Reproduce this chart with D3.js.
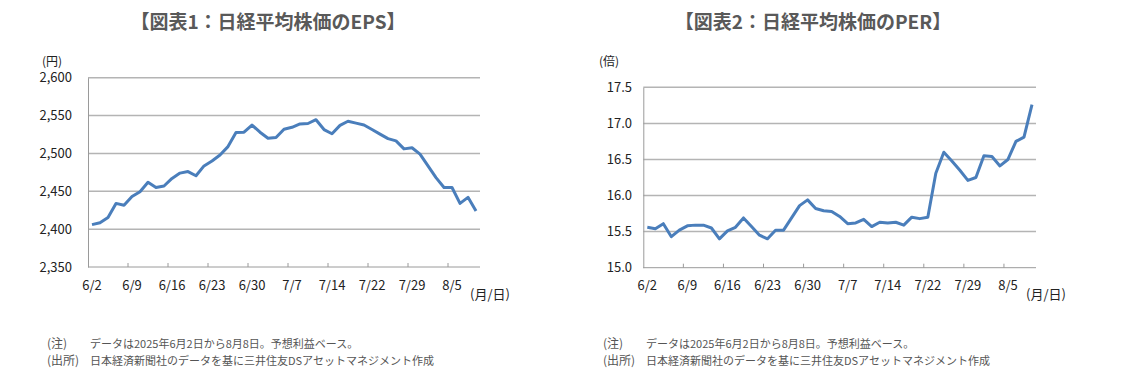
<!DOCTYPE html>
<html>
<head>
<meta charset="utf-8">
<script src="https://cdn.jsdelivr.net/npm/d3@7"></script>
<style>
  body { margin: 0; background: #fff; }
  svg text { font-family: "Noto Sans CJK JP", "Noto Sans", sans-serif; }
</style>
</head>
<body>
<div id="chart"></div>
<script>
// trading days, 2025/6/2 - 8/8
const dates = [
  "6/2","6/3","6/4","6/5","6/6","6/9","6/10","6/11","6/12","6/13",
  "6/16","6/17","6/18","6/19","6/20","6/23","6/24","6/25","6/26","6/27",
  "6/30","7/1","7/2","7/3","7/4","7/7","7/8","7/9","7/10","7/11",
  "7/14","7/15","7/16","7/17","7/18","7/22","7/23","7/24","7/25","7/28",
  "7/29","7/30","7/31","8/1","8/4","8/5","8/6","8/7","8/8"
];
const epsValues = [
  2406, 2408.5, 2415.5, 2434, 2431.5, 2443, 2449.5, 2462, 2455, 2457,
  2467, 2474, 2476, 2470.5, 2483.5, 2490, 2498, 2509, 2527.5, 2528,
  2537.5, 2528, 2520, 2521, 2532, 2534.5, 2539, 2539.5, 2544.5, 2531.5,
  2526, 2537, 2542.5, 2540, 2537.5, 2531.5, 2525.5, 2519.5, 2516.5, 2506,
  2507.5, 2499, 2483.5, 2468, 2455, 2455, 2434, 2442, 2424
];
const perValues = [
  15.56, 15.54, 15.61, 15.43, 15.52, 15.58, 15.59, 15.59, 15.55, 15.40,
  15.51, 15.56, 15.69, 15.57, 15.45, 15.40, 15.52, 15.52, 15.69, 15.86,
  15.94, 15.82, 15.79, 15.78, 15.71, 15.61, 15.62, 15.67, 15.57, 15.63,
  15.62, 15.63, 15.59, 15.70, 15.68, 15.70, 16.31, 16.60, 16.48, 16.35,
  16.21, 16.25, 16.55, 16.54, 16.41, 16.50, 16.75, 16.81, 17.26
];
const xLabels = ["6/2","6/9","6/16","6/23","6/30","7/7","7/14","7/22","7/29","8/5"];
const epsTicks = [2350, 2400, 2450, 2500, 2550, 2600];
const perTicks = [15.0, 15.5, 16.0, 16.5, 17.0, 17.5];

const svg = d3.select("#chart").append("svg")
  .attr("width", 1125)
  .attr("height", 377);

function drawChart(cfg) {
  const g = svg.append("g");

  const x = d3.scaleBand()
    .domain(dates)
    .range([cfg.left, cfg.right])
    .paddingInner(0).paddingOuter(0);

  const y = d3.scaleLinear()
    .domain([cfg.ticks[0], cfg.ticks[cfg.ticks.length - 1]])
    .range([cfg.bottom, cfg.top]);

  // title
  g.append("text")
    .attr("x", cfg.titleX)
    .attr("y", 29)
    .attr("text-anchor", "middle")
    .style("font-size", "19px")
    .style("font-weight", "bold")
    .style("fill", "#595959")
    .text(cfg.title);

  // gridlines
  g.selectAll(".grid")
    .data(cfg.ticks.slice(1))
    .enter().append("line")
    .attr("x1", cfg.left).attr("x2", cfg.right)
    .attr("y1", d => y(d)).attr("y2", d => y(d))
    .attr("stroke", "#b4b4b4")
    .attr("stroke-width", 1.5);

  // y axis
  const yAxis = g.append("g")
    .attr("transform", `translate(${cfg.left},0)`)
    .call(d3.axisLeft(y).tickValues(cfg.ticks).tickSize(0).tickPadding(cfg.left - cfg.yLabelX)
      .tickFormat(cfg.fmt));
  yAxis.select(".domain").attr("stroke", "#9a9a9a");
  yAxis.selectAll("text")
    .style("font-size", "13px")
    .style("fill", "#222");

  // x axis, ticks between categories, pointing up
  const tickPos = d3.range(5, dates.length, 5).map(i => x(dates[i]));
  g.append("line")
    .attr("x1", cfg.left).attr("x2", cfg.right)
    .attr("y1", cfg.bottom).attr("y2", cfg.bottom)
    .attr("stroke", "#9a9a9a");
  g.selectAll(".xtick")
    .data(tickPos)
    .enter().append("line")
    .attr("x1", d => d).attr("x2", d => d)
    .attr("y1", cfg.bottom).attr("y2", cfg.bottom - 4)
    .attr("stroke", "#9a9a9a");
  g.selectAll(".xlab")
    .data(xLabels)
    .enter().append("text")
    .attr("x", d => x(d) + x.bandwidth() / 2)
    .attr("y", 290)
    .attr("text-anchor", "middle")
    .style("font-size", "13px")
    .style("fill", "#222")
    .text(d => d);

  // units
  g.append("text")
    .attr("x", cfg.unitX).attr("y", 66)
    .style("font-size", "12px").style("fill", "#222")
    .text(cfg.unit);
  g.append("text")
    .attr("x", cfg.right - 10).attr("y", 299)
    .style("font-size", "13px").style("fill", "#222")
    .text("(月/日)");

  // line
  const line = d3.line()
    .x((d, i) => x(dates[i]) + x.bandwidth() / 2)
    .y(d => y(d));
  g.append("path")
    .datum(cfg.values)
    .attr("d", line)
    .attr("fill", "none")
    .attr("stroke", "#4a7ebb")
    .attr("stroke-width", 3)
    .attr("stroke-linejoin", "round");

  // notes
  const notes = [["(注)", "データは2025年6月2日から8月8日。予想利益ベース。"],
                 ["(出所)", "日本経済新聞社のデータを基に三井住友DSアセットマネジメント作成"]];
  notes.forEach((n, i) => {
    g.append("text")
      .attr("x", cfg.noteX).attr("y", 348 + i * 17)
      .style("font-size", "12px").style("fill", "#555")
      .text(n[0]);
    g.append("text")
      .attr("x", cfg.noteX + 43).attr("y", 348 + i * 17)
      .style("font-size", "11px").style("fill", "#555")
      .text(n[1]);
  });
}

drawChart({
  title: "【図表1：日経平均株価のEPS】", titleX: 268,
  left: 88, right: 480, top: 77.7, bottom: 267,
  ticks: epsTicks, values: epsValues, fmt: d3.format(","),
  yLabelX: 72, unit: "(円)", unitX: 42, noteX: 47
});
drawChart({
  title: "【図表2：日経平均株価のPER】", titleX: 813,
  left: 643.3, right: 1036, top: 87.3, bottom: 267.7,
  ticks: perTicks, values: perValues, fmt: d3.format(".1f"),
  yLabelX: 632, unit: "(倍)", unitX: 599, noteX: 603
});
</script>
</body>
</html>
